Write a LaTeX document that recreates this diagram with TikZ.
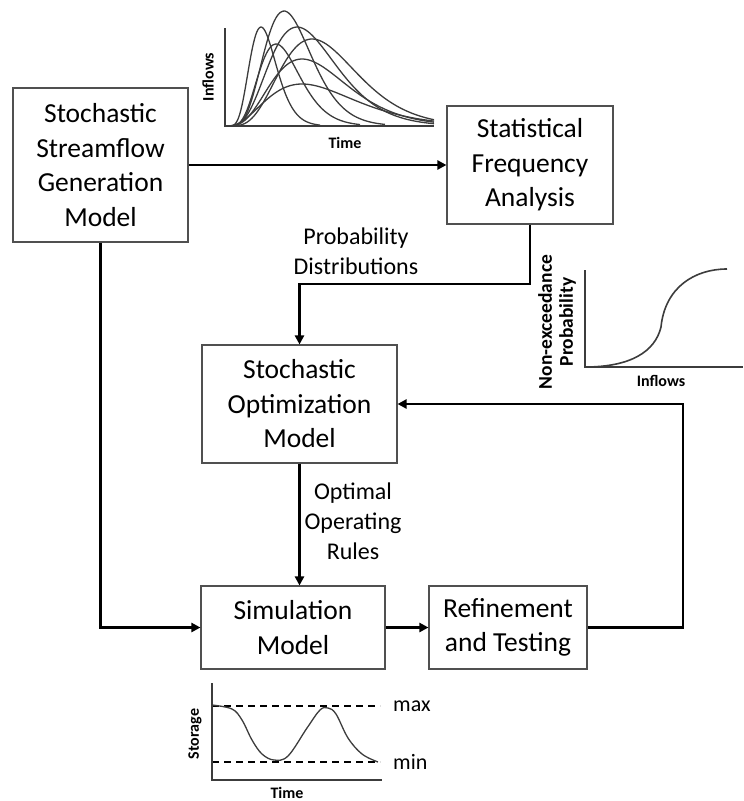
\documentclass[tikz,border=0pt]{standalone}
\usepackage{fontspec}
\setmainfont{Carlito}
\usetikzlibrary{arrows.meta}
\definecolor{boxline}{HTML}{505050}
\definecolor{plotline}{HTML}{3C3C3C}
\begin{document}
\begin{tikzpicture}[x=1pt,y=-1pt,
  box/.style={draw=boxline, line width=1.1pt, fill=white, align=center, inner sep=0pt,
    font=\fontsize{27.5}{34.5}\selectfont},
  flow/.style={line width=2.6pt, -{Triangle[length=9pt,width=9pt]}},
  lbl/.style={align=center, inner sep=0pt, font=\fontsize{24}{30}\selectfont},
  axis/.style={draw=plotline, line width=1.4pt},
  curve/.style={draw=plotline, line width=1.3pt},
  limit/.style={draw=black, line width=1.3pt, dash pattern=on 7pt off 5pt},
  axlbl/.style={inner sep=0pt, font=\fontsize{16}{20}\selectfont\bfseries},
  lvl/.style={inner sep=0pt, anchor=west, font=\fontsize{22}{26}\selectfont}]
\useasboundingbox (0,0) rectangle (744,801);

% process boxes
\node[box, minimum width=175pt, minimum height=154pt] (ssg) at (100.5,165) {Stochastic\\Streamflow\\Generation\\Model};
\node[box, minimum width=166pt, minimum height=118pt] (sfa) at (530,165) {Statistical\\Frequency\\Analysis};
\node[box, minimum width=195pt, minimum height=118pt] (som) at (299.5,404) {Stochastic\\Optimization\\Model};
\node[box, minimum width=184pt, minimum height=83pt] (sim) at (293,627.5) {Simulation\\Model};
\node[box, minimum width=158pt, minimum height=83pt] (ref) at (508,627.5) {Refinement\\and Testing};

% connector labels
\node[lbl] (pdlbl) at (356,251) {Probability\\Distributions};
\node[lbl] (oorlbl) at (353,521) {Optimal\\Operating\\Rules};

% connectors
\coordinate (pbend) at (530,284);
\coordinate (fbend) at (683,627.5);
\draw[flow] (ssg.east) -- (sfa.west);
\draw[flow] (ssg.south) |- (sim.west);
\draw[flow] (sfa.south) -- (pbend) -| (som.north);
\draw[flow] (som.south) -- (som.south |- sim.north);
\draw[flow] (sim.east) -- (ref.west);
\draw[flow] (ref.east) -- (fbend) |- (som.east);

% synthetic inflow hydrographs
\draw[axis] (225,28) -- (225,126) -- (434,126);
\begin{scope}[shift={(225,126)}, yscale=-1]
  \foreach \P/\H/\K/\E in {36/99/7/95, 59/115/6/160, 51/82/6/135, 72/99/4.5/209, 87/87/5/209, 77/67/4/209, 77/42/3/209} {
    \draw[curve] (0,0) -- plot[domain=1:\E, samples=90, smooth] (\x,{\H*exp(\K*(ln(\x/\P)+1-\x/\P))});
  }
\end{scope}
\node[axlbl, rotate=90] (inflab) at (208,77) {Inflows};
\node[axlbl] (timelab) at (345,143) {Time};

% cumulative distribution of inflows
\draw[axis] (585,270) -- (585,367) -- (743,367);
\begin{scope}[shift={(585,367)}, yscale=-1]
  \draw[curve, line width=1.6pt] (0,0) .. controls (45,0) and (70,15) .. (76,40)
    .. controls (80,80) and (110,98) .. (142,98);
\end{scope}
\node[axlbl, rotate=90, align=center, font=\fontsize{19.5}{21}\selectfont\bfseries] (cdfy) at (557,322) {Non-exceedance\\Probability};
\node[axlbl] (cdfx) at (661,381) {Inflows};

% reservoir storage trace
\draw[limit] (212,706) -- (380,706);
\draw[limit] (212,762) -- (380,762);
\draw[axis] (212,683) -- (212,780) -- (382,780);
\begin{scope}[shift={(212,780)}, yscale=-1]
  \draw[curve] plot[smooth, tension=0.6] coordinates {(0,75) (20,71) (30,60) (40,40) (50,26) (62,20) (76,24) (95,52) (108,70) (116,72) (124,66) (136,42) (150,26) (166,18)};
\end{scope}
\node[axlbl, rotate=90] (stolab) at (195,734) {Storage};
\node[axlbl] (stotime) at (287,793) {Time};
\node[lvl] (maxlab) at (393,706) {max};
\node[lvl] (minlab) at (393,762) {min};
\end{tikzpicture}
\end{document}
